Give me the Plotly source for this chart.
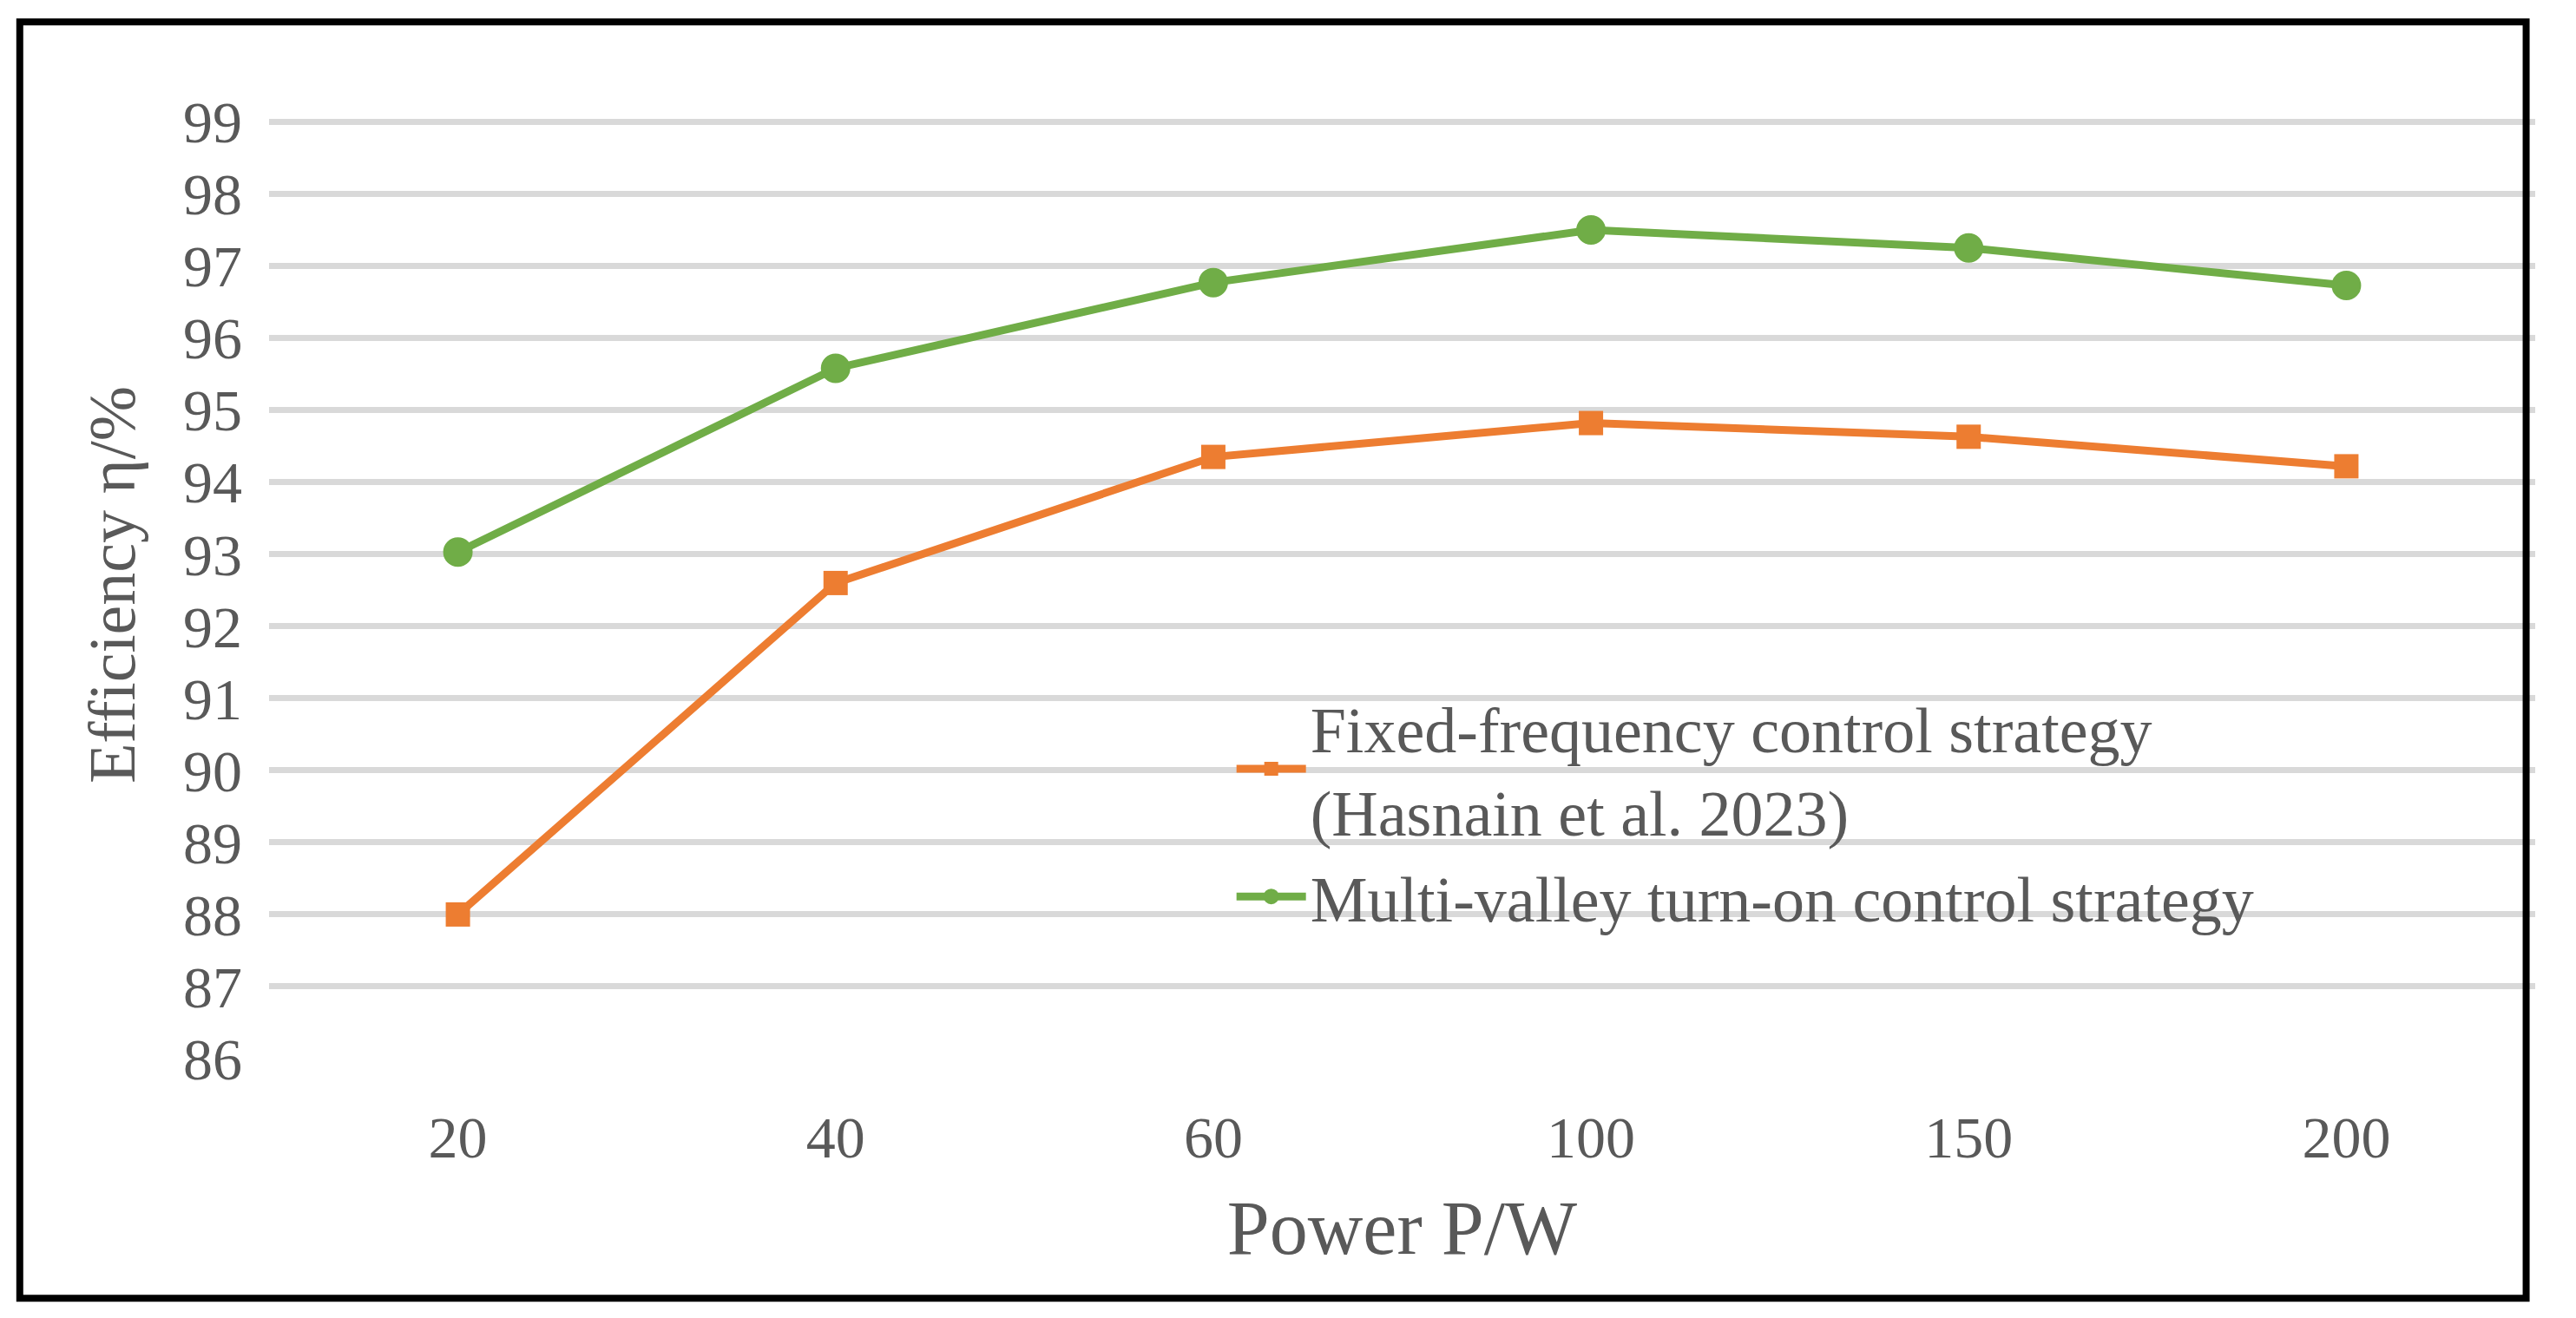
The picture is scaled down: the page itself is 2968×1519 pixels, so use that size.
import plotly.graph_objects as go

# Data
power = ["20", "40", "60", "100", "150", "200"]
eff_fixed = [88.0, 92.6, 94.35, 94.82, 94.63, 94.22]
eff_valley = [93.03, 95.58, 96.77, 97.5, 97.25, 96.73]

fig = go.Figure()

fig.add_trace(go.Scatter(
    x=power, y=eff_fixed, mode="lines+markers",
    name="Fixed-frequency control strategy<br>(Hasnain et al. 2023)",
    line=dict(color="#ED7D31", width=9),
    marker=dict(symbol="square", size=28, color="#ED7D31")
))

fig.add_trace(go.Scatter(
    x=power, y=eff_valley, mode="lines+markers",
    name="Multi-valley turn-on control strategy",
    line=dict(color="#70AD47", width=9),
    marker=dict(symbol="circle", size=32, color="#70AD47",
                line=dict(color="#70AD47", width=2))
))

fig.update_xaxes(
    type="category",
    range=[-0.5, 5.5],
    showgrid=False,
    showline=False,
    ticks="",
    ticklabelstandoff=45,
    tickfont=dict(size=68),
    title=dict(text="Power P/W", font=dict(size=88, color="#595959"), standoff=35)
)

fig.update_yaxes(
    range=[86, 99.15],
    dtick=1,
    showgrid=True,
    gridcolor="#D9D9D9",
    gridwidth=7,
    zeroline=False,
    ticklabelstandoff=30,
    tickfont=dict(size=68),
    title=dict(text="Efficiency η/%", font=dict(size=76, color="#595959"), standoff=30)
)

fig.update_layout(
    width=2968, height=1519,
    font=dict(family="Liberation Serif", size=68, color="#595959"),
    plot_bgcolor="white",
    paper_bgcolor="white",
    margin=dict(l=302, r=55, t=120, b=307),
    legend=dict(x=0.425, y=0.40, xanchor="left", yanchor="top",
                font=dict(size=74, color="#595959"),
                itemwidth=80, tracegroupgap=20, bgcolor="rgba(0,0,0,0)"),
    # outer frame around the whole figure
    shapes=[dict(type="rect", xref="paper", yref="paper",
                 x0=-0.11, x1=0.996, y0=-0.253, y1=1.094,
                 line=dict(color="black", width=8))]
)

fig.write_html("out.html")
